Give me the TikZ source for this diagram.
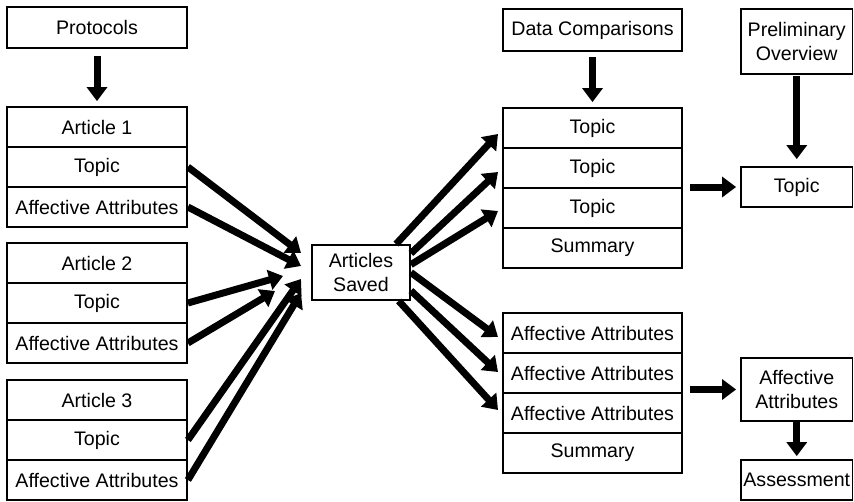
\documentclass[tikz,border=0pt]{standalone}
\usepackage{fontspec}
\setmainfont{Liberation Sans}
\usetikzlibrary{arrows.meta, calc}

\begin{document}
\begin{tikzpicture}[x=1pt,y=-1pt,
        box/.style={draw, line width=1.8pt, minimum width=180pt, minimum height=40pt,
          inner sep=1pt, align=center, font=\fontsize{19.6}{24.5}\selectfont},
        stack/.style={box, minimum width=179pt},
        side/.style={box, minimum width=111.5pt},
        flow/.style={-{Triangle[length=14pt,width=20pt]}, line width=7pt}]
        \useasboundingbox (0,0) rectangle (854,501);
        \node[box, minimum height=41pt] (proto) at (97,27.5) {Protocols};
        \node[box] (a1) at (97,127) {Article 1}; \node[box] (a1t) at (97,167) {Topic};
        \node[box] (a1a) at (97,207) {Affective Attributes};
        \node[box] (a2) at (97,263) {Article 2}; \node[box] (a2t) at (97,303) {Topic};
        \node[box] (a2a) at (97,343) {Affective Attributes};
        \node[box] (a3) at (97,400) {Article 3}; \node[box] (a3t) at (97,440) {Topic};
        \node[box] (a3a) at (97,480) {Affective Attributes};
        \node[box, minimum width=98pt, minimum height=55pt] (saved) at (361,272.5) {Articles\\Saved};
        \node[stack, minimum height=42pt] (dc) at (592.5,30) {Data Comparisons};
        \node[stack] (t1) at (592.5,128) {Topic}; \node[stack] (t2) at (592.5,168) {Topic};
        \node[stack] (t3) at (592.5,208) {Topic}; \node[stack] (ts) at (592.5,248) {Summary};
        \node[stack] (aa1) at (592.5,333) {Affective Attributes};
        \node[stack] (aa2) at (592.5,373) {Affective Attributes};
        \node[stack] (aa3) at (592.5,413) {Affective Attributes};
        \node[stack] (as) at (592.5,453) {Summary};
        \node[side, minimum height=65pt] (prelim) at (796.75,41.5) {Preliminary\\Overview};
        \node[side] (rtopic) at (796.75,187) {Topic};
        \node[side, minimum height=63pt] (raa) at (796.75,389.5) {Affective\\Attributes};
        \node[side] (assess) at (796.75,480) {Assessment};
        \coordinate (inA) at (301,253); \coordinate (inB) at (301,266);
        \coordinate (inC) at (283,276); \coordinate (inD) at (275,291);
        \coordinate (inE) at (301,279); \coordinate (inF) at (301,293);
        \coordinate (outA) at (498,134); \coordinate (outB) at (498,172);
        \coordinate (outC) at (498,211); \coordinate (outD) at (498,337);
        \coordinate (outE) at (498,372); \coordinate (outF) at (498,410);
        \draw[flow, shorten <=7pt, shorten >=5pt] (proto) -- (a1);
        \draw[flow, shorten <=5.5pt, shorten >=5pt] (dc) -- (t1);
        \draw[flow, shorten <=1pt, shorten >=7pt] (prelim) -- (rtopic);
        \draw[flow, shorten <=7pt, shorten >=4pt] (rtopic.west -| t2.east) -- (rtopic.west);
        \draw[flow, shorten <=7pt, shorten >=4pt] (raa.west -| aa2.east) -- (raa.west);
        \draw[flow, shorten >=3pt] (raa) -- (assess);
        \draw[flow] (a1t.east) -- (inA); \draw[flow] (a1a.east) -- (inB);
        \draw[flow] (a2t.east) -- (inC); \draw[flow] (a2a.east) -- (inD);
        \draw[flow] (a3t.east) -- (inE); \draw[flow] (a3a.east) -- (inF);
        \draw[flow] (saved.39) -- (outA); \draw[flow] (saved.21) -- (outB);
        \draw[flow] (saved.9) -- (outC); \draw[flow] (saved.0) -- (outD);
        \draw[flow] (saved.-20) -- (outE); \draw[flow] (saved.-37) -- (outF);
        \end{tikzpicture}
\end{document}
